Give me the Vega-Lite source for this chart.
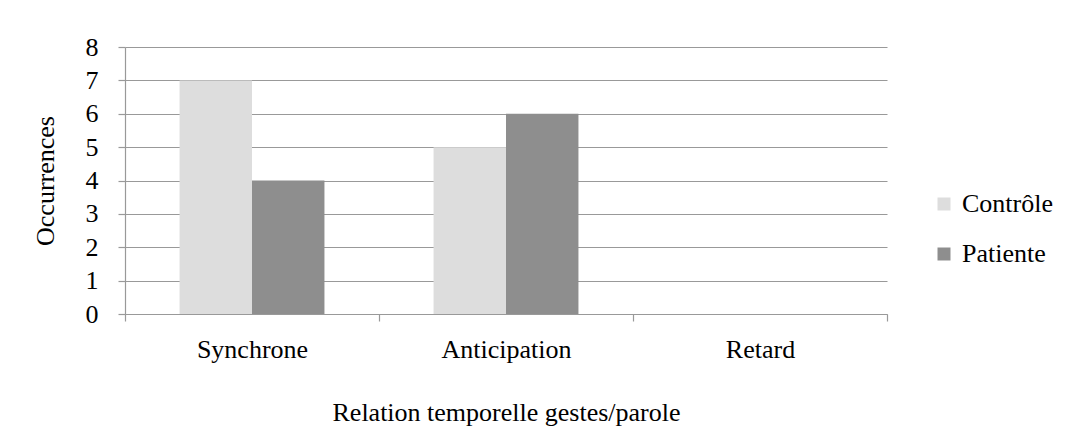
{
  "$schema": "https://vega.github.io/schema/vega-lite/v6.json",
  "width": 762,
  "height": 267,
  "autosize": {"type": "none"},
  "padding": {"left": 125, "top": 47, "right": 185, "bottom": 120},
  "background": "white",
  "data": {
    "values": [
      {"relation": "Synchrone", "groupe": "Contrôle", "occ": 7},
      {"relation": "Synchrone", "groupe": "Patiente", "occ": 4},
      {"relation": "Anticipation", "groupe": "Contrôle", "occ": 5},
      {"relation": "Anticipation", "groupe": "Patiente", "occ": 6},
      {"relation": "Retard", "groupe": "Contrôle", "occ": 0},
      {"relation": "Retard", "groupe": "Patiente", "occ": 0}
    ]
  },
  "mark": {"type": "bar"},
  "encoding": {
    "x": {
      "field": "relation",
      "type": "nominal",
      "sort": ["Synchrone", "Anticipation", "Retard"],
      "scale": {"paddingInner": 0, "paddingOuter": 0},
      "axis": {
        "title": "Relation temporelle gestes/parole",
        "labelAngle": 0,
        "tickBand": "extent",
        "tickSize": 7,
        "labelPadding": 15,
        "titlePadding": 37
      }
    },
    "xOffset": {
      "field": "groupe",
      "sort": ["Contrôle", "Patiente"],
      "scale": {"paddingInner": 0, "paddingOuter": 0.753}
    },
    "y": {
      "field": "occ",
      "type": "quantitative",
      "scale": {"domain": [0, 8], "nice": false},
      "axis": {
        "title": "Occurrences",
        "values": [0, 1, 2, 3, 4, 5, 6, 7, 8],
        "tickSize": 7,
        "labelPadding": 20,
        "titlePadding": 27,
        "grid": true
      }
    },
    "color": {
      "field": "groupe",
      "type": "nominal",
      "scale": {"domain": ["Contrôle", "Patiente"], "range": ["#dddddd", "#8e8e8e"]},
      "legend": {
        "title": null,
        "orient": "none",
        "legendX": 806,
        "legendY": 144,
        "symbolType": "square",
        "symbolSize": 169,
        "symbolStrokeWidth": 0,
        "symbolOpacity": 1,
        "labelFontSize": 26,
        "labelOffset": 5,
        "rowPadding": 24,
        "labelColor": "#000000",
        "labelFont": "Liberation Serif"
      }
    }
  },
  "config": {
    "view": {"stroke": null},
    "font": "Liberation Serif",
    "bar": {"opacity": 1},
    "legend": {"labelFont": "Liberation Serif", "titleFont": "Liberation Serif"},
    "axis": {
      "labelFont": "Liberation Serif",
      "titleFont": "Liberation Serif",
      "labelFontSize": 26,
      "titleFontSize": 26,
      "titleFontWeight": "normal",
      "labelColor": "#000000",
      "titleColor": "#000000",
      "domainColor": "#999999",
      "tickColor": "#999999",
      "gridColor": "#999999",
      "gridWidth": 1.2,
      "domainWidth": 1.2,
      "tickWidth": 1.2,
      "gridOpacity": 1
    },
    "axisX": {"grid": false},
    "axisY": {"labelFont": "Liberation Serif"}
  }
}
